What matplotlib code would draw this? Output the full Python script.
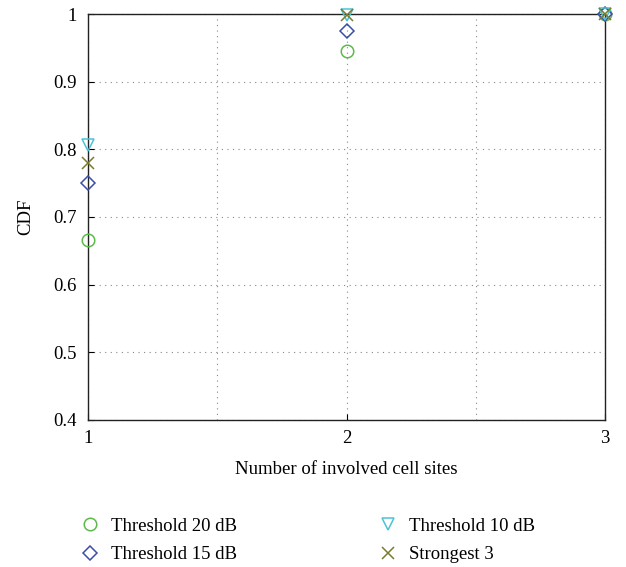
import matplotlib
matplotlib.use("Agg")
import matplotlib.pyplot as plt

x = [1, 2, 3]
thr20 = [0.666, 0.946, 1.0]
thr15 = [0.750, 0.975, 1.0]
thr10 = [0.806, 0.998, 1.0]
strongest3 = [0.780, 0.998, 1.0]
labels = ["Threshold 20 dB", "Threshold 15 dB", "Threshold 10 dB", "Strongest 3"]

plt.rcParams['font.family'] = ['Liberation Serif', 'DejaVu Serif']

fig = plt.figure(figsize=(6.26, 5.67), dpi=100)
ax = fig.add_axes([0.1406, 0.2593, 0.8259, 0.716])

specs = [
    (thr20, 'o', '#5cba4b'),
    (thr15, 'D', '#3b4fa6'),
    (thr10, 'v', '#4bc3d6'),
    (strongest3, 'x', '#7b7b2c'),
]
handles = []
for (vals, m, c), lab in zip(specs, labels):
    ms = 9 if m != 'D' else 7
    h, = ax.plot(x, vals, linestyle='none', marker=m, markersize=ms,
                 markerfacecolor='none', markeredgecolor=c, markeredgewidth=1.1,
                 clip_on=False, label=lab, zorder=3)
    handles.append(h)

ax.set_xlim(1, 3)
ax.set_ylim(0.4, 1.0)
ax.set_xticks([1, 2, 3])
ax.set_xticks([1.5, 2.5], minor=True)
ax.set_yticks([0.4, 0.5, 0.6, 0.7, 0.8, 0.9, 1.0])
ax.set_yticklabels(['0.4', '0.5', '0.6', '0.7', '0.8', '0.9', '1'])
ax.tick_params(axis='both', which='both', direction='in', labelsize=13.5, length=4)
ax.tick_params(axis='y', which='major', pad=8)
ax.tick_params(axis='x', which='major', pad=7)
ax.tick_params(axis='x', which='minor', length=0)
ax.grid(True, which='both', linestyle=(0, (1, 4)), color='#888888', linewidth=0.8)
for s in ax.spines.values():
    s.set_color('#222222')
    s.set_linewidth(1.0)

ax.set_xlabel('Number of involved cell sites', fontsize=13.5, labelpad=10)
ax.set_ylabel('CDF', fontsize=13.5, labelpad=14)

fig.legend(handles=handles, labels=labels, ncol=2, frameon=False,
           loc='lower left', bbox_to_anchor=(0.095, -0.023), fontsize=13.5,
           columnspacing=7.3, handletextpad=0.35, handlelength=1.5,
           labelspacing=0.6)

fig.savefig('out.png', dpi=100)
